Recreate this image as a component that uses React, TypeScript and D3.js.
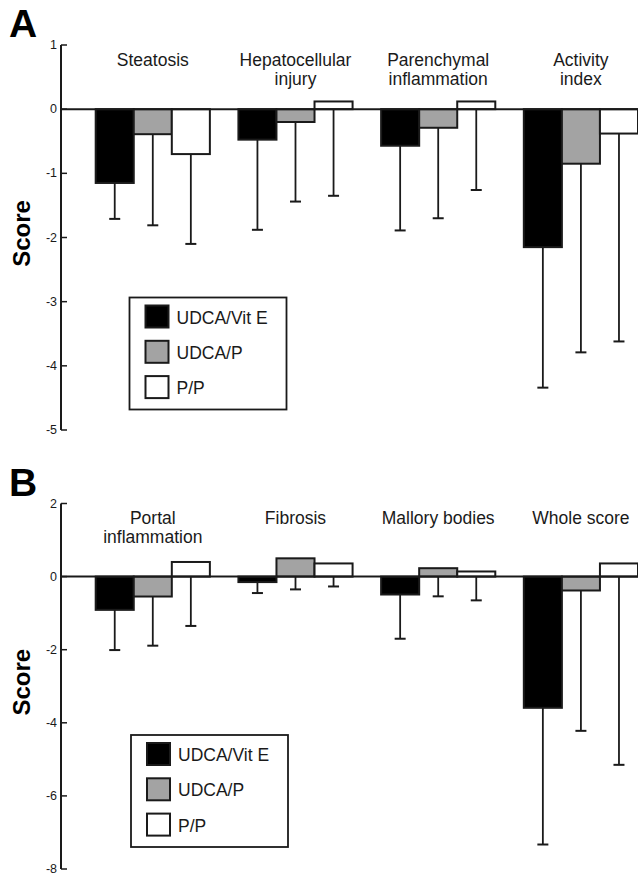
import React from "react"
import { scaleBand, scaleLinear } from "d3"

// series
const seriesNames = ["UDCA/Vit E", "UDCA/P", "P/P"]
const seriesFill = ["#000000", "#a3a3a3", "#ffffff"]

// panel A
const categoriesA = [["Steatosis"], ["Hepatocellular", "injury"], ["Parenchymal", "inflammation"], ["Activity", "index"]]
const vitEA = [-1.15, -0.475, -0.57, -2.15]
const udcaPA = [-0.39, -0.2, -0.29, -0.85]
const ppA = [-0.7, 0.12, 0.12, -0.38]
const vitESdA = [0.56, 1.405, 1.32, 2.19]
const udcaPSdA = [1.42, 1.24, 1.41, 2.94]
const ppSdA = [1.4, 1.47, 1.38, 3.24]
const ticksA = [1, 0, -1, -2, -3, -4, -5]

// panel B
const categoriesB = [["Portal", "inflammation"], ["Fibrosis"], ["Mallory bodies"], ["Whole score"]]
const vitEB = [-0.91, -0.15, -0.49, -3.59]
const udcaPB = [-0.545, 0.5, 0.23, -0.38]
const ppB = [0.4, 0.36, 0.14, 0.36]
const vitESdB = [1.1, 0.3, 1.21, 3.74]
const udcaPSdB = [1.345, 0.85, 0.77, 3.84]
const ppSdB = [1.75, 0.63, 0.79, 5.51]
const ticksB = [2, 0, -2, -4, -6, -8]

const INK = "#1a1a1a"
const FONT = "Liberation Sans, Arial, Helvetica, sans-serif"

function Panel(props) {
  const { letter, letterY, categories, means, sds, ticks, yRange, legendX, legendY } = props
  const axisX = 61
  const y = scaleLinear().domain([ticks[ticks.length - 1], ticks[0]]).range(yRange)
  const x = scaleBand().domain(categories.map((c) => c.join(" "))).range([95.7, 638]).paddingInner(0.2).paddingOuter(0)
  const xs = scaleBand().domain(seriesNames).range([0, x.bandwidth()]).padding(0)
  const top = y(ticks[0])
  const bottom = y(ticks[ticks.length - 1])

  return (
    <g>
      <text x={9} y={letterY} fontSize={39} fontWeight="bold" fontFamily={FONT} fill="#000">{letter}</text>
      <text
        transform={"translate(30," + ((top + bottom) / 2 - 4) + ") rotate(-90)"}
        textAnchor="middle"
        fontSize={24}
        fontWeight="bold"
        fontFamily={FONT}
        fill="#000"
      >Score</text>

      {/* axis */}
      <line x1={axisX} x2={axisX} y1={top} y2={bottom} stroke={INK} strokeWidth={2} />
      {ticks.map((t) => (
        <g key={t}>
          <line x1={axisX} x2={axisX + 6} y1={y(t)} y2={y(t)} stroke={INK} strokeWidth={1.5} />
          <text x={axisX - 4} y={y(t) + 4} textAnchor="end" fontSize={12.5} fontFamily={FONT} fill={INK}>{t}</text>
        </g>
      ))}

      {/* category labels */}
      {categories.map((c) => (
        <text key={c.join(" ")} textAnchor="middle" fontSize={17.5} fontFamily={FONT} fill={INK}>
          {c.map((line, i) => (
            <tspan key={i} x={x(c.join(" ")) + x.bandwidth() / 2} y={top + 20.5 + i * 19}>{line}</tspan>
          ))}
        </text>
      ))}

      {/* bars */}
      {categories.map((c, ci) => {
        const gx = x(c.join(" "))
        return seriesNames.map((s, si) => {
          const v = means[si][ci]
          const bx = gx + xs(s)
          const cx = bx + xs.bandwidth() / 2
          const start = Math.min(0, v)
          const end = v - sds[si][ci]
          return (
            <g key={s}>
              <line x1={cx} x2={cx} y1={y(start)} y2={y(end)} stroke={INK} strokeWidth={1.8} />
              <line x1={cx - 5.5} x2={cx + 5.5} y1={y(end)} y2={y(end)} stroke={INK} strokeWidth={2} />
              <rect
                x={bx}
                y={Math.min(y(v), y(0))}
                width={xs.bandwidth()}
                height={Math.abs(y(v) - y(0))}
                fill={seriesFill[si]}
                stroke={INK}
                strokeWidth={2}
              />
            </g>
          )
        })
      })}

      {/* zero line */}
      <line x1={axisX} x2={638} y1={y(0)} y2={y(0)} stroke={INK} strokeWidth={2} />

      {/* legend */}
      <g transform={"translate(" + legendX + "," + legendY + ")"}>
        <rect x={0} y={0} width={157} height={112} fill="#fff" stroke={INK} strokeWidth={1.8} />
        {seriesNames.map((s, i) => (
          <g key={s} transform={"translate(0," + (8 + i * 35.3) + ")"}>
            <rect x={16} y={0} width={23} height={22} fill={seriesFill[i]} stroke={INK} strokeWidth={2} />
            <text x={47} y={18} fontSize={17.5} fontFamily={FONT} fill={INK}>{s}</text>
          </g>
        ))}
      </g>
    </g>
  )
}

export default function App() {
  return (
    <svg width={638} height={875} style={{ position: "absolute", left: 0, top: 0, background: "#fff" }}>
      <Panel
        letter="A"
        letterY={37}
        categories={categoriesA}
        means={[vitEA, udcaPA, ppA]}
        sds={[vitESdA, udcaPSdA, ppSdA]}
        ticks={ticksA}
        yRange={[430, 45]}
        legendX={129.5}
        legendY={297.5}
      />
      <Panel
        letter="B"
        letterY={496}
        categories={categoriesB}
        means={[vitEB, udcaPB, ppB]}
        sds={[vitESdB, udcaPSdB, ppSdB]}
        ticks={ticksB}
        yRange={[869, 503.5]}
        legendX={131}
        legendY={735}
      />
    </svg>
  )
}
